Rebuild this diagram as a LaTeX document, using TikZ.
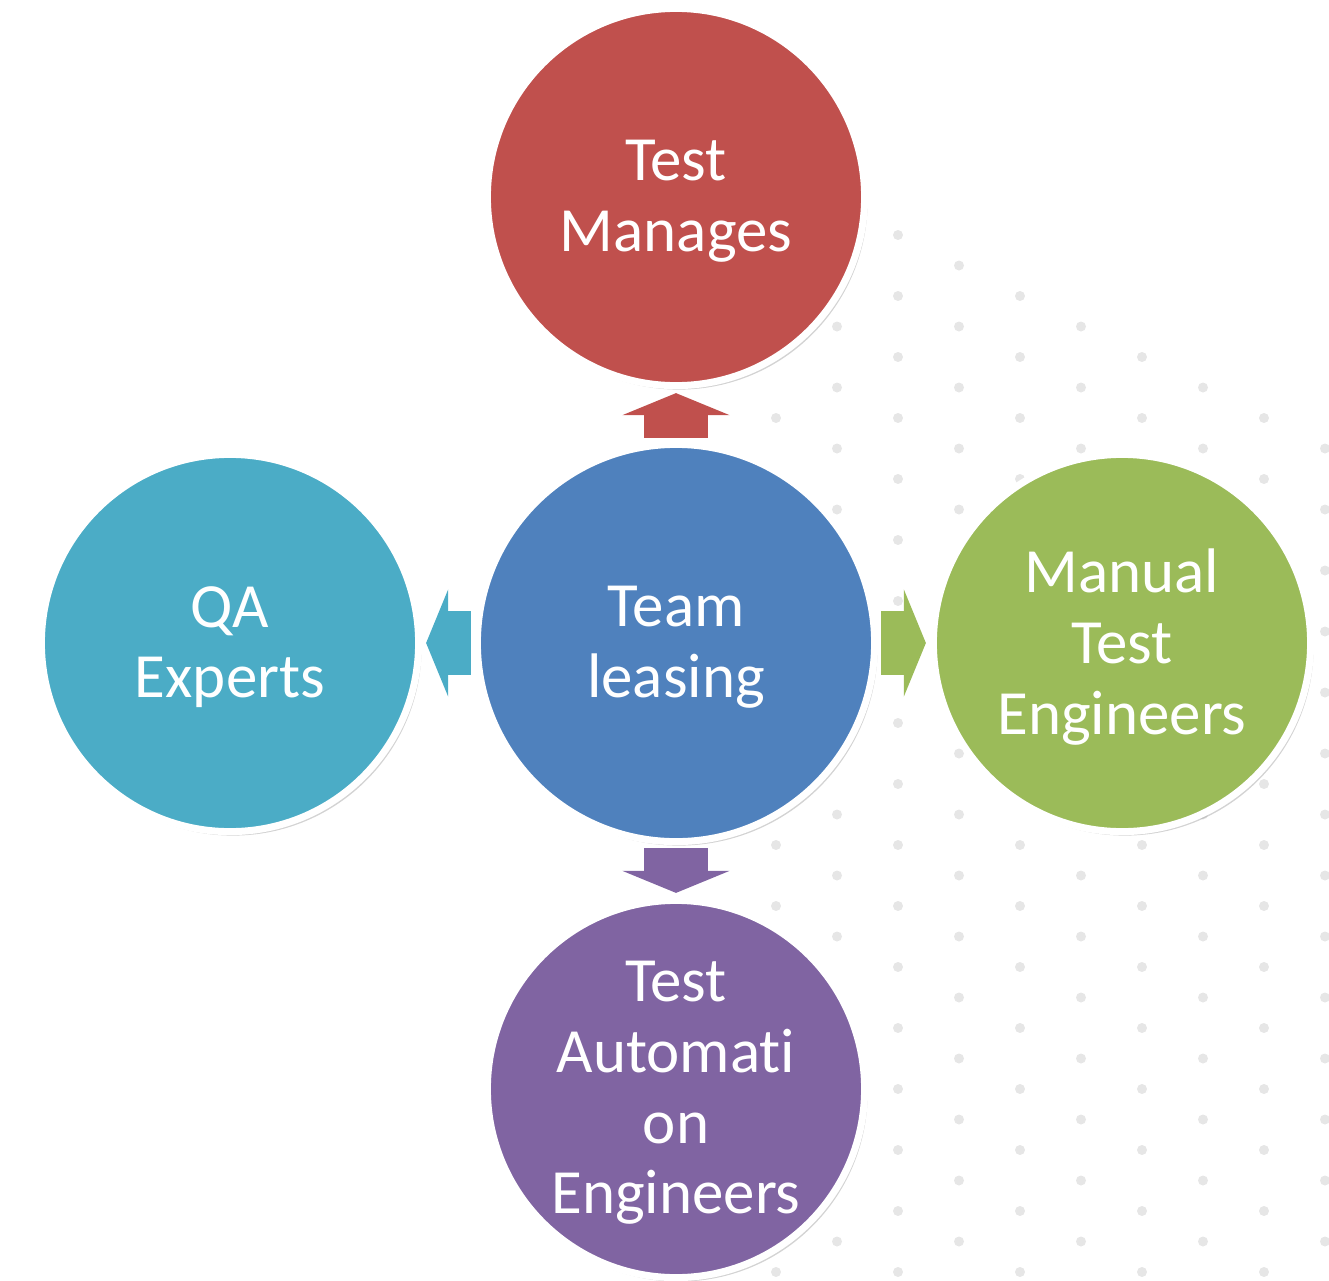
\documentclass[tikz,border=0pt]{standalone}
\usepackage{fontspec}
\setmainfont{Carlito}[Ligatures=NoCommon]
\usetikzlibrary{shadows,arrows.meta}
\definecolor{mgrred}{HTML}{C0504D}
\definecolor{teamblue}{HTML}{4F81BD}
\definecolor{manualgreen}{HTML}{9BBB59}
\definecolor{autopurple}{HTML}{8064A2}
\definecolor{qacyan}{HTML}{4BACC6}
\definecolor{dotgray}{HTML}{E6E6E6}

\begin{document}
\begin{tikzpicture}[x=0.01cm,y=-0.01cm,
	bubble/.style={circle, draw=white, line width=0.07cm, minimum size=3.77cm, inner sep=0pt,
		drop shadow={opacity=0.35, shadow xshift=0.03cm, shadow yshift=-0.04cm}},
	bubtext/.style={text=white, align=center, yshift=-0.04cm, font=\fontsize{17.9pt}{20.1pt}\selectfont},
	flow/.style={line width=0.64cm, -{Triangle[width=1.07cm,length=0.22cm,line width=0pt]},
		shorten <=0.03cm, shorten >=0.04cm}]
	
	\useasboundingbox (0,0) rectangle (1329,1281);
	
	% dotted background
	\foreach \j in {0,...,34} {
		\foreach \k in {0,...,4} {
			\pgfmathsetmacro{\dx}{776+61*(2*\k+mod(\j,2))}
			\pgfmathsetmacro{\dy}{235+30.5*\j}
			\pgfmathtruncatemacro{\keep}{(\dx<=899+2*(\dy-235)) && (\dx>=897-0.667*(\dy-235))}
			\ifnum\keep=1 \fill[dotgray] (\dx,\dy) circle (0.05cm); \fi
		}
	}
	
	\node[bubble, fill=mgrred] (mgr) at (676,197) {};
	\node[bubble, fill=qacyan] (qa) at (230,643) {};
	\node[bubble, fill=manualgreen] (manual) at (1122,643) {};
	\node[bubble, fill=autopurple] (auto) at (676,1089) {};
	\node[bubble, fill=teamblue, minimum size=3.97cm] (team) at (676,643) {};
	
	\node[bubtext] (mgrtxt) at (mgr) {Test\\Manages};
	\node[bubtext] (qatxt) at (qa) {QA\\Experts};
	\node[bubtext] (manualtxt) at (manual) {Manual\\Test\\Engineers};
	\node[bubtext] (autotxt) at (auto) {Test\\Automati\\on\\Engineers};
	\node[bubtext] (teamtxt) at (team) {Team\\leasing};
	
	\draw[flow, mgrred] (team) -- (mgr);
	\draw[flow, qacyan] (team) -- (qa);
	\draw[flow, manualgreen] (team) -- (manual);
	\draw[flow, autopurple] (team) -- (auto);
\end{tikzpicture}
\end{document}
